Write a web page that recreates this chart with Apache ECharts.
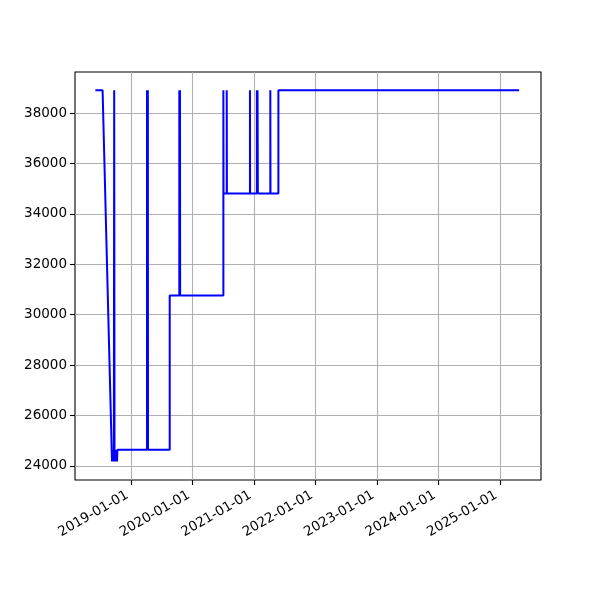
<!DOCTYPE html>
<html>
<head>
<meta charset="utf-8">
<script src="https://cdn.jsdelivr.net/npm/echarts@6/dist/echarts.min.js"></script>
<style>html,body{margin:0;padding:0;background:#fff;}#c{width:600px;height:600px;}</style>
</head>
<body>
<div id="c"></div>
<script>
const dates = [
  '2018-06-02','2018-07-15','2018-09-09','2018-09-12','2018-09-14','2018-09-17','2018-09-20',
  '2018-09-22','2018-09-24','2018-09-26','2018-09-28','2018-10-01','2018-10-04','2018-10-07',
  '2018-10-09','2018-10-11',
  '2019-04-05','2019-04-05','2019-04-07','2019-04-10','2019-04-11',
  '2019-08-18','2019-08-18',
  '2019-10-14','2019-10-14','2019-10-16','2019-10-18','2019-10-19',
  '2020-07-02','2020-07-02','2020-07-03',
  '2020-07-22','2020-07-22','2020-07-23',
  '2020-12-07','2020-12-07','2020-12-08',
  '2021-01-17','2021-01-17','2021-01-19','2021-01-21','2021-01-21','2021-01-23',
  '2021-04-07','2021-04-07','2021-04-08',
  '2021-05-25','2021-05-25','2025-04-25'
];
const values = [
  38900,38900,24180,24640,24180,24640,24180,
  38900,24180,24640,24180,24640,24180,24640,
  24180,24640,
  24640,38900,24640,38900,24640,
  24640,30760,
  30760,38900,30760,38900,30760,
  30760,38900,34810,
  34810,38900,34810,
  34810,38900,34810,
  34810,38900,34810,34810,38900,34810,
  34810,38900,34810,
  34810,38900,38900
];
const yTicks = [24000,26000,28000,30000,32000,34000,36000,38000];
const xTicks = ['2019-01-01','2020-01-01','2021-01-01','2022-01-01','2023-01-01','2024-01-01','2025-01-01'];

const ts = d => Date.parse(d + 'T00:00:00Z');
const pad = n => (n < 10 ? '0' : '') + n;
const fmt = v => { const d = new Date(v); return d.getUTCFullYear() + '-' + pad(d.getUTCMonth() + 1) + '-' + pad(d.getUTCDate()) + ' '; };

const chart = echarts.init(document.getElementById('c'));
const xTickTs = xTicks.map(ts);
const font = {fontFamily: 'DejaVu Sans', fontSize: 13.5, color: '#000'};
chart.setOption({
  animation: false,
  backgroundColor: '#fff',
  grid: {left: 75, right: 59, top: 72, bottom: 120, show: true, borderColor: '#000', borderWidth: 1.1, containLabel: false},
  xAxis: {
    type: 'value',
    min: ts('2018-02-01'),
    max: ts('2025-09-02'),
    axisLine: {show: false},
    axisTick: {show: true, length: 5, lineStyle: {color: '#000', width: 1.1}, customValues: xTickTs},
    axisLabel: Object.assign({}, font, {
      customValues: xTickTs,
      rotate: 30, margin: 12,
      formatter: fmt
    }),
    splitLine: {show: true, lineStyle: {color: '#b0b0b0', width: 1.1}}
  },
  yAxis: {
    type: 'value',
    min: 23444, max: 39627,
    axisLine: {show: false},
    axisTick: {show: true, length: 5, lineStyle: {color: '#000', width: 1.1}, customValues: yTicks},
    axisLabel: Object.assign({}, font, {customValues: yTicks, margin: 8, formatter: v => String(v)}),
    splitLine: {show: true, lineStyle: {color: '#b0b0b0', width: 1.1}}
  },
  series: [{
    type: 'line',
    data: dates.map((d, i) => [ts(d), values[i]]),
    showSymbol: false,
    lineStyle: {color: '#0000ff', width: 2},
    itemStyle: {color: '#0000ff'}
  }]
});
</script>
</body>
</html>
